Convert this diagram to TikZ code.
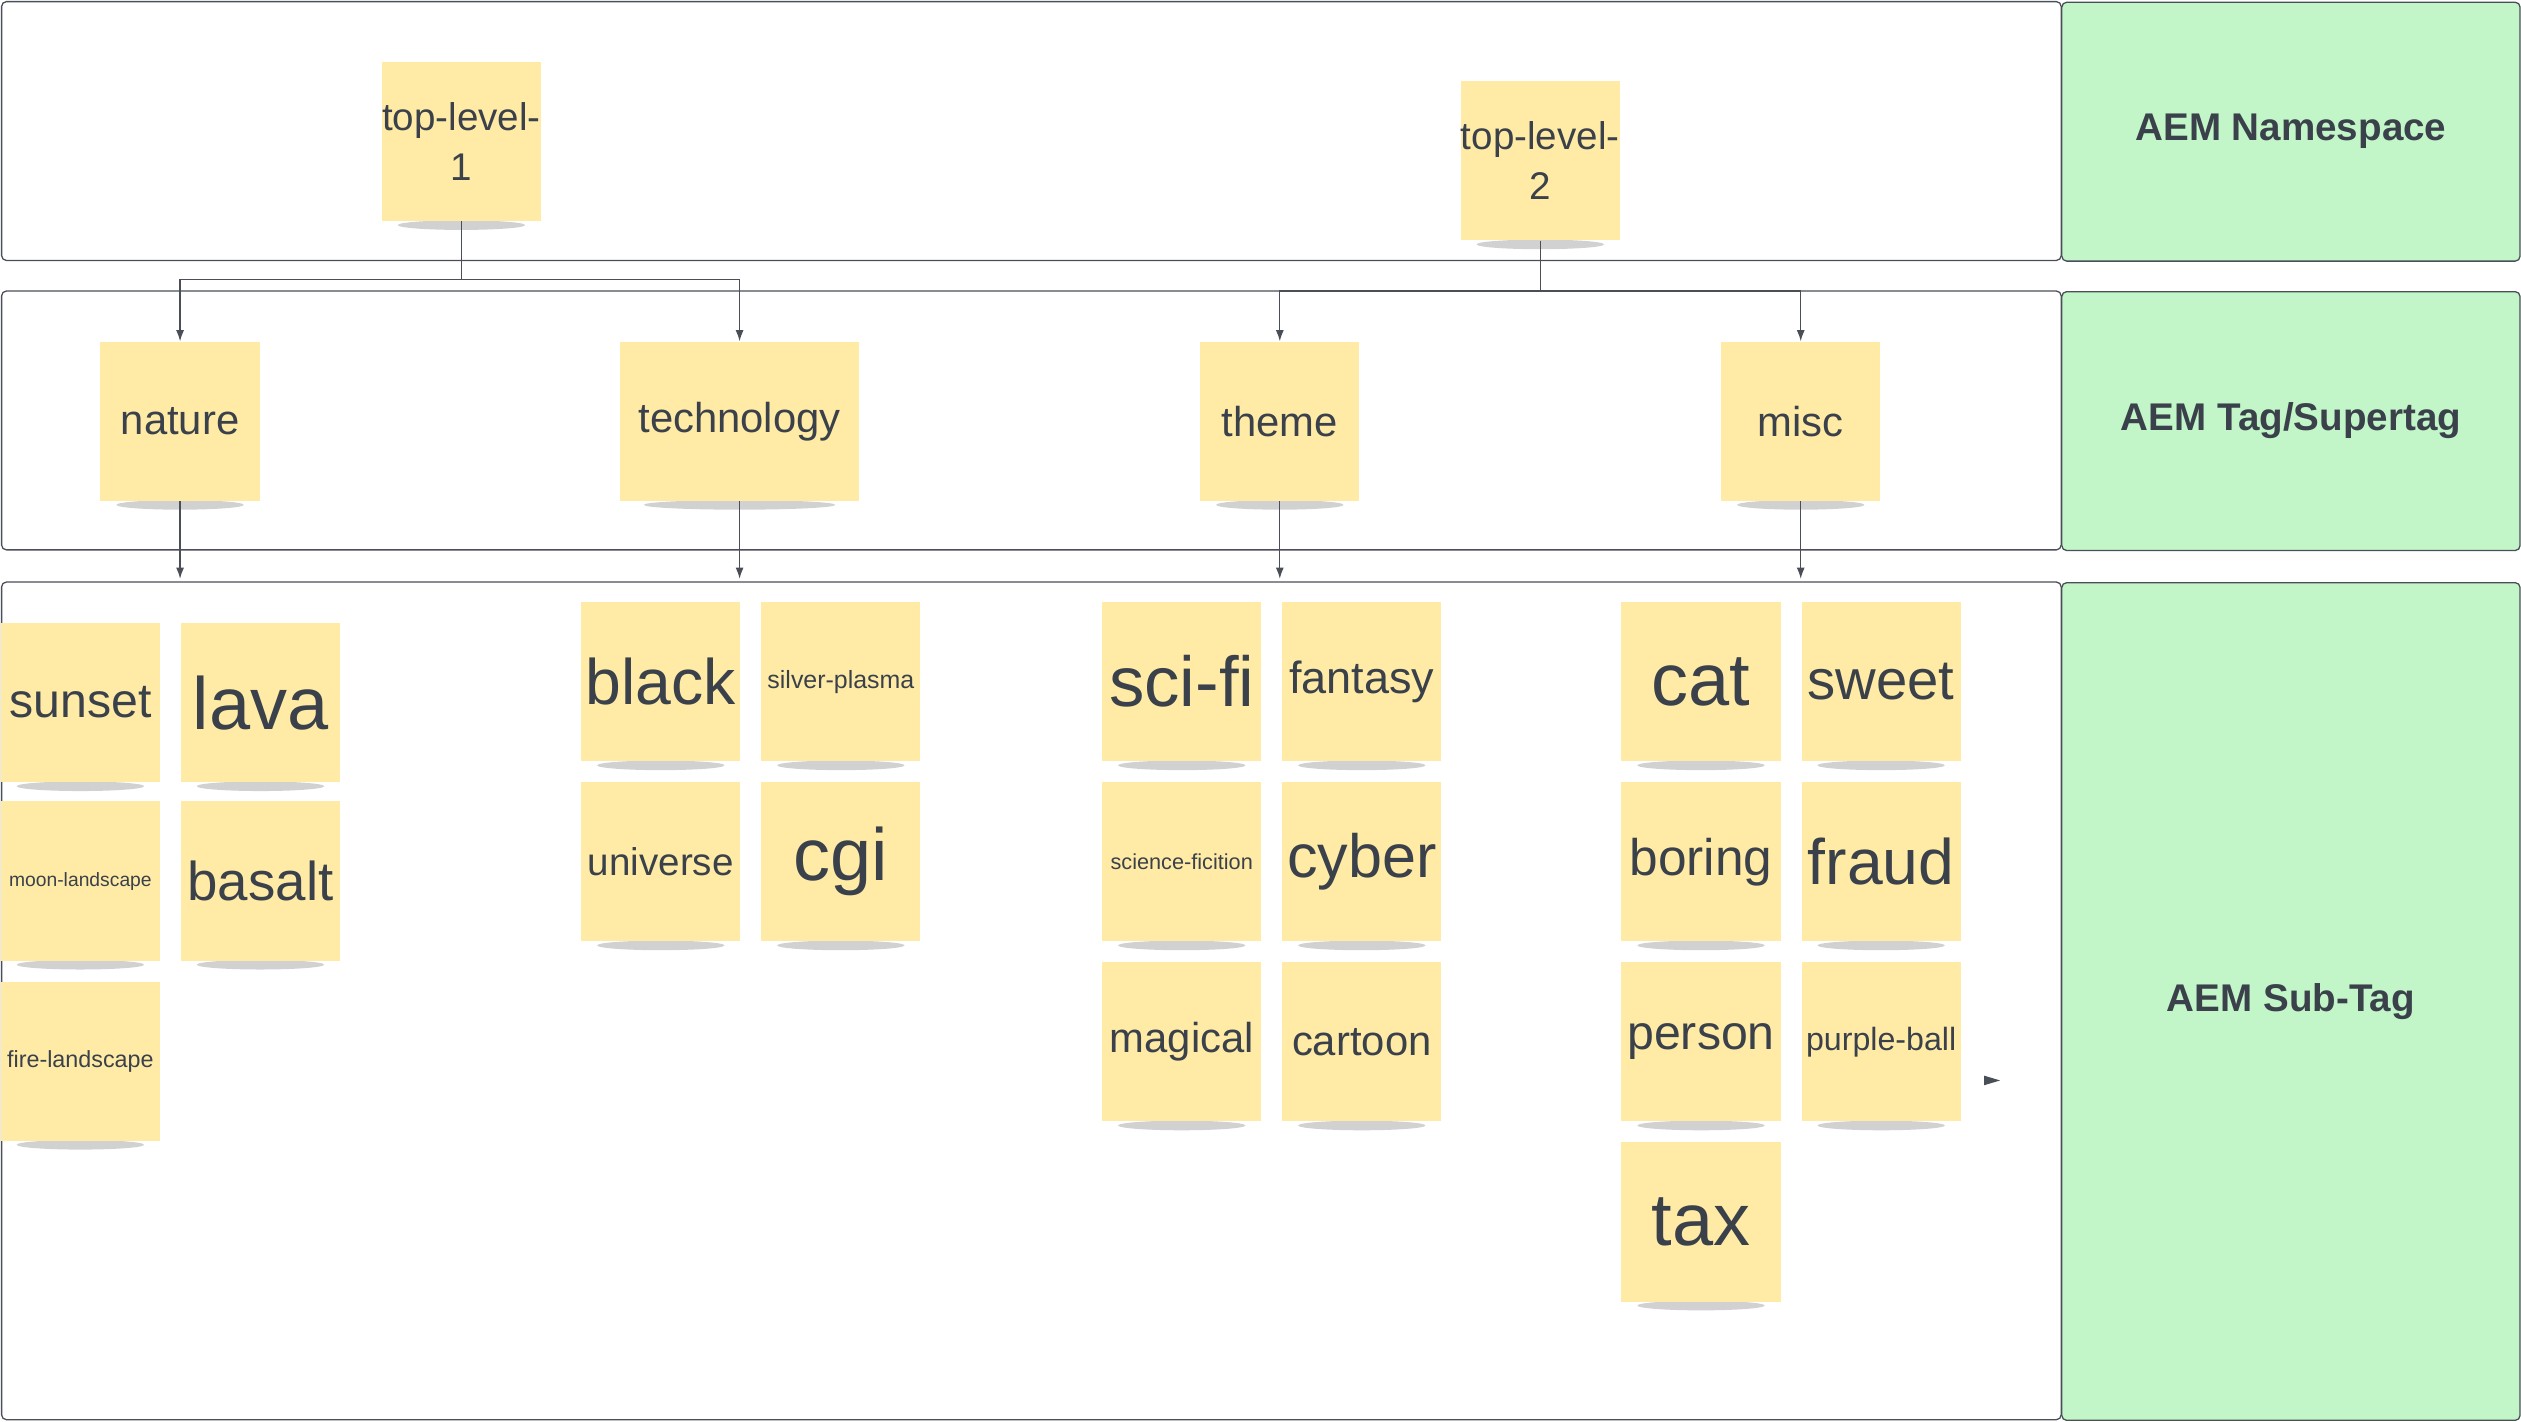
\documentclass[tikz,border=0pt]{standalone}
\usepackage{fontspec}
\setmainfont{Liberation Sans}
\usetikzlibrary{arrows.meta}
\definecolor{notey}{HTML}{FFEBA6}
\definecolor{greenb}{HTML}{C2F5C8}
\definecolor{txt}{HTML}{3A414A}
\definecolor{bord}{HTML}{4A4F57}
\tikzset{
  band/.style={draw=bord,line width=0.8pt,rounded corners=3pt},
  gband/.style={draw=bord,fill=greenb,line width=0.8pt,rounded corners=3pt,font=\fontsize{24}{28}\selectfont\bfseries,text=txt},
  note/.style={fill=notey,minimum width=99pt,minimum height=99pt,inner sep=0pt,text=txt,align=center},
  conn/.style={draw=bord,line width=0.8pt,-{Latex[length=7pt,width=5pt]}},
  shad/.style={fill=black,opacity=0.18},
}
\newcommand{\mynote}[6]{%
  \fill[shad] (#2,#3+52) ellipse ({0.4*#6} and 3);
  \node[note,minimum width=#6 pt,font=\fontsize{#5}{1.3\dimexpr #5pt\relax}\selectfont] (#1) at (#2,#3) {#4};}
\begin{document}
\begin{tikzpicture}[x=1pt,y=-1pt]
\useasboundingbox (0,0) rectangle (1568,884);
\draw[band] (1,1) rectangle (1282,162);
\draw[band] (1,181) rectangle (1282,342);
\draw[band] (1,362) rectangle (1282,883);
\node[gband,minimum width=285pt,minimum height=161pt,anchor=north west] (g1) at (1282,1) {AEM Namespace};
\node[gband,minimum width=285pt,minimum height=161pt,anchor=north west] (g2) at (1282,181) {AEM Tag/Supertag};
\node[gband,minimum width=285pt,minimum height=521pt,anchor=north west] (g3) at (1282,362) {AEM Sub-Tag};

\mynote{t1}{287}{88}{top-level-\\1}{24}{99}
\mynote{t2}{958}{100}{top-level-\\2}{24}{99}
\mynote{nature}{112}{262}{nature}{26}{99}
\mynote{tech}{460}{262}{technology}{26}{149}
\mynote{theme}{796}{262}{theme}{26}{99}
\mynote{misc}{1120}{262}{misc}{26}{99}

\coordinate (j1) at (287,174);
\coordinate (j2) at (958,181);
\draw[conn] (t1.south) -- (j1) -| (nature.north);
\draw[conn] (j1) -| (tech.north);
\draw[conn] (t2.south) -- (j2) -| (theme.north);
\draw[conn] (j2) -| (misc.north);
\foreach \n/\x in {nature/112,tech/460,theme/796,misc/1120}{
  \coordinate (b\n) at (\x,360);
  \draw[conn] (\n.south) -- (b\n);
}

\mynote{sunset}{50}{437}{sunset}{30}{99}
\mynote{lava}{162}{437}{lava}{46}{99}
\mynote{moon}{50}{548}{moon-landscape}{12}{99}
\mynote{basalt}{162}{548}{basalt}{34}{99}
\mynote{fire}{50}{660}{fire-landscape}{14.5}{99}

\mynote{black}{411}{424}{black}{40}{99}
\mynote{silver}{523}{424}{silver-plasma}{15.5}{99}
\mynote{universe}{411}{536}{universe}{24}{99}
\mynote{cgi}{523}{536}{cgi}{46}{99}

\mynote{scifi}{735}{424}{sci-fi}{44}{99}
\mynote{fantasy}{847}{424}{fantasy}{28}{99}
\mynote{scific}{735}{536}{science-ficition}{13.5}{99}
\mynote{cyber}{847}{536}{cyber}{38}{99}
\mynote{magical}{735}{648}{magical}{26}{99}
\mynote{cartoon}{847}{648}{cartoon}{26}{99}

\mynote{cat}{1058}{424}{cat}{46}{99}
\mynote{sweet}{1170}{424}{sweet}{35}{99}
\mynote{boring}{1058}{536}{boring}{32}{99}
\mynote{fraud}{1170}{536}{fraud}{40}{99}
\mynote{person}{1058}{648}{person}{30}{99}
\mynote{purple}{1170}{648}{purple-ball}{20}{99}
\mynote{tax}{1058}{760}{tax}{46}{99}

\fill[bord] (1234,669) -- (1244,672) -- (1234,675) -- cycle;
\end{tikzpicture}
\end{document}
